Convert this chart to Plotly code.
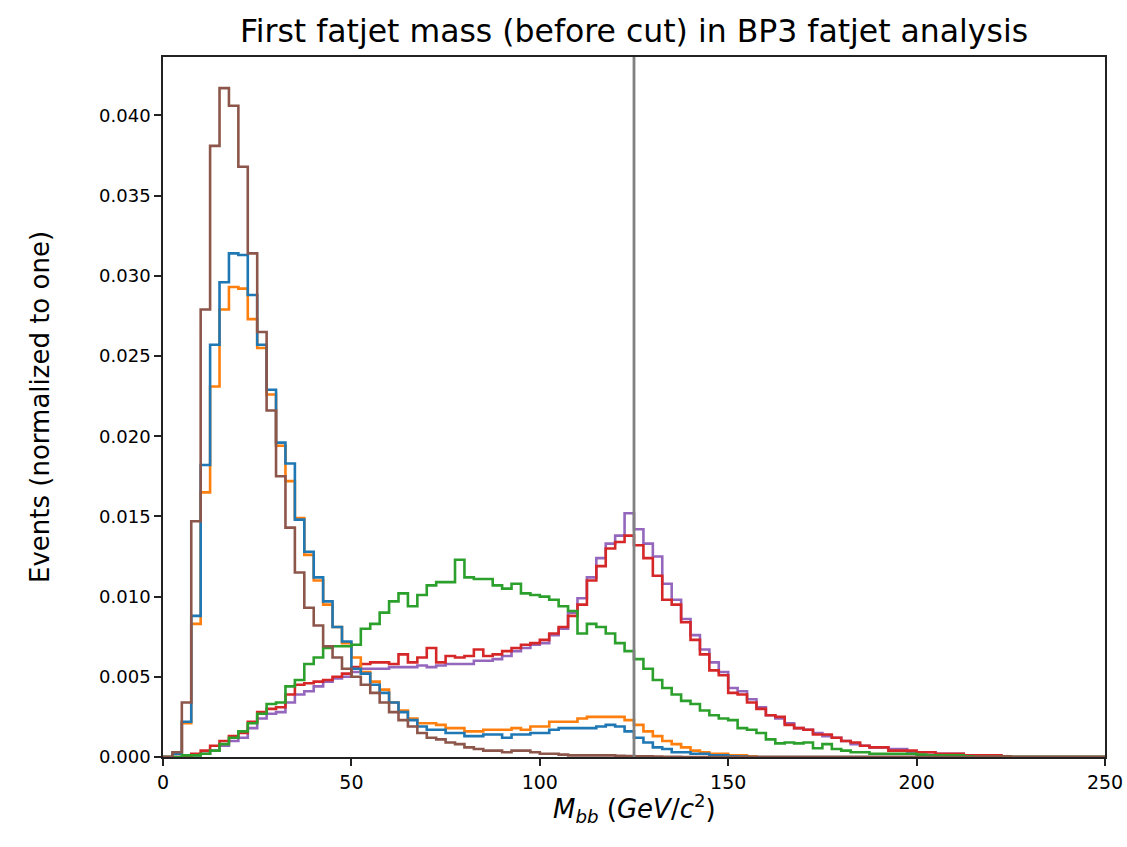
import plotly.graph_objects as go

# Histogram binning: 100 bins of 2.5 GeV between 0 and 250
BIN_WIDTH = 2.5
N_BINS = 100
edges = [i * BIN_WIDTH for i in range(N_BINS + 1)]

# Normalised bin contents per sample (bins beyond the listed ones are empty)
blue_vals = [
    0, 0.0002, 0.0022, 0.0088, 0.0182, 0.0257, 0.0296, 0.0314, 0.0313, 0.0288,
    0.0257, 0.0229, 0.0196, 0.0183, 0.0148, 0.0128, 0.0112, 0.0097, 0.0081, 0.0072,
    0.0055, 0.0052, 0.0045, 0.0040, 0.0034, 0.0028, 0.0023, 0.0019, 0.0017, 0.0017,
    0.0015, 0.0015, 0.0013, 0.0013, 0.0014, 0.0014, 0.0012, 0.0014, 0.0014, 0.0015,
    0.0015, 0.0017, 0.0018, 0.0018, 0.0018, 0.0018, 0.0019, 0.0020, 0.0019, 0.0016,
    0.0012, 0.0009, 0.0006, 0.0005, 0.0003, 0.0003, 0.0002, 0.0002, 0.0001, 0.0001,
    0.00005, 0.00003,
]
orange_vals = [
    0, 0.0002, 0.0021, 0.0083, 0.0165, 0.0231, 0.0279, 0.0293, 0.0292, 0.0273,
    0.0255, 0.0226, 0.0194, 0.0172, 0.0149, 0.0126, 0.0110, 0.0095, 0.0081, 0.0071,
    0.0062, 0.0053, 0.0047, 0.0042, 0.0034, 0.0029, 0.0024, 0.0021, 0.0021, 0.0020,
    0.0018, 0.0018, 0.0016, 0.0016, 0.0017, 0.0017, 0.0017, 0.0018, 0.0017, 0.0019,
    0.0019, 0.0022, 0.0022, 0.0022, 0.0024, 0.0025, 0.0025, 0.0025, 0.0025, 0.0023,
    0.0020, 0.0016, 0.0013, 0.0010, 0.0008, 0.0006, 0.0004, 0.0003, 0.0002, 0.0002,
    0.0001, 0.0001, 0.00005,
]
green_vals = [
    0, 0, 0.0001, 0.0001, 0.0002, 0.0004, 0.0008, 0.0012, 0.0016, 0.0021,
    0.0027, 0.0033, 0.0034, 0.0044, 0.0048, 0.0058, 0.0062, 0.0068, 0.0069, 0.0069,
    0.0070, 0.0080, 0.0083, 0.0090, 0.0097, 0.0102, 0.0094, 0.0101, 0.0107, 0.0109,
    0.0109, 0.0123, 0.0112, 0.0111, 0.0111, 0.0107, 0.0105, 0.0108, 0.0102, 0.0101,
    0.0100, 0.0098, 0.0094, 0.0091, 0.0077, 0.0083, 0.0081, 0.0077, 0.0071, 0.0066,
    0.0061, 0.0055, 0.0048, 0.0043, 0.0039, 0.0035, 0.0033, 0.0029, 0.0026, 0.0024,
    0.0023, 0.0018, 0.0017, 0.0015, 0.0011, 0.00085, 0.0009, 0.00085, 0.0009, 0.00055,
    0.0008, 0.0005, 0.0004, 0.0003, 0.0003, 0.0002, 0.0002, 0.0002, 0.0002, 0.0002,
    0.00015, 0.0001, 0.0001, 0.0001, 0.0001, 0.00005,
]
red_vals = [
    0, 0, 0, 0.0002, 0.0004, 0.0007, 0.0010, 0.0013, 0.0015, 0.0022,
    0.0028, 0.0030, 0.0031, 0.0039, 0.0045, 0.0046, 0.0047, 0.0048, 0.0050, 0.0052,
    0.0056, 0.0058, 0.0059, 0.0059, 0.0058, 0.0064, 0.0059, 0.0062, 0.0068, 0.0059,
    0.0063, 0.0062, 0.0063, 0.0067, 0.0063, 0.0064, 0.0066, 0.0068, 0.0070, 0.0071,
    0.0073, 0.0077, 0.0081, 0.0088, 0.0095, 0.0110, 0.0119, 0.0130, 0.0134, 0.0138,
    0.0132, 0.0124, 0.0113, 0.0098, 0.0095, 0.0084, 0.0073, 0.0064, 0.0054, 0.0051,
    0.0040, 0.0039, 0.0034, 0.0030, 0.0026, 0.0025, 0.0020, 0.0018, 0.0017, 0.0014,
    0.0014, 0.0012, 0.0010, 0.0009, 0.0007, 0.0006, 0.0006, 0.0004, 0.0004, 0.0004,
    0.0003, 0.0003, 0.0002, 0.0002, 0.0002, 0.0001, 0.0001, 0.0001, 0.0001, 0.00005,
]
purple_vals = [
    0, 0, 0, 0.0001, 0.0002, 0.0004, 0.0007, 0.0010, 0.0012, 0.0018,
    0.0024, 0.0027, 0.0028, 0.0034, 0.0039, 0.0041, 0.0044, 0.0047, 0.0049, 0.0050,
    0.0053, 0.0055, 0.0055, 0.0055, 0.0056, 0.0056, 0.0056, 0.0057, 0.0056, 0.0057,
    0.0058, 0.0058, 0.0058, 0.0060, 0.0060, 0.0061, 0.0063, 0.0066, 0.0068, 0.0070,
    0.0071, 0.0076, 0.0080, 0.0090, 0.0099, 0.0112, 0.0124, 0.0133, 0.0138, 0.0152,
    0.0142, 0.0133, 0.0125, 0.0108, 0.0098, 0.0086, 0.0076, 0.0067, 0.0059, 0.0053,
    0.0043, 0.0041, 0.0036, 0.0031, 0.0026, 0.0024, 0.0021, 0.0018, 0.0017, 0.0015,
    0.0013, 0.0012, 0.0010, 0.0008, 0.0007, 0.0006, 0.0006, 0.0005, 0.0005, 0.0003,
    0.0003, 0.0003, 0.0002, 0.0002, 0.0002, 0.0001, 0.0001, 0.0001, 0.0001,
]
brown_vals = [
    0, 0.0003, 0.0034, 0.0147, 0.0279, 0.0381, 0.0417, 0.0406, 0.0368, 0.0314,
    0.0265, 0.0216, 0.0175, 0.0143, 0.0115, 0.0093, 0.0082, 0.0069, 0.0062, 0.0055,
    0.0050, 0.0045, 0.0040, 0.0034, 0.0028, 0.0023, 0.0019, 0.0015, 0.0012, 0.0011,
    0.0009, 0.0008, 0.0006, 0.0005, 0.0004, 0.0004, 0.0003, 0.0004, 0.0004, 0.0003,
    0.0002, 0.0002, 0.00015, 0.0001, 0.0001, 0.0001, 0.0001, 0.0001, 0.00008, 0.00006,
    0.00005, 0.00004, 0.00003, 0.00002, 0.00002,
]

HIGGS_MASS = 125

x_ticks = [0, 50, 100, 150, 200, 250]
y_ticks = [0.000, 0.005, 0.010, 0.015, 0.020, 0.025, 0.030, 0.035, 0.040]
y_tick_text = ["0.000", "0.005", "0.010", "0.015", "0.020", "0.025", "0.030", "0.035", "0.040"]

# drawing order (last one ends up on top) and tab10 colours
series = [
    ("purple", purple_vals, "#9467bd"),
    ("red", red_vals, "#d62728"),
    ("orange", orange_vals, "#ff7f0e"),
    ("blue", blue_vals, "#1f77b4"),
    ("green", green_vals, "#2ca02c"),
    ("brown", brown_vals, "#8c564b"),
]

W, H = 1127, 847
M_L, M_R, M_T, M_B = 163, 22, 57, 90
plot_w = W - M_L - M_R
plot_h = H - M_T - M_B

fig = go.Figure()
for name, vals, color in series:
    full = list(vals) + [0.0] * (N_BINS - len(vals))
    # step outline: start at baseline, one horizontal run per bin, back to baseline
    xs = [edges[0]] + edges
    ys = [0.0] + full + [0.0]
    fig.add_trace(go.Scatter(
        x=xs, y=ys, mode="lines", name=name,
        line=dict(color=color, width=2.6, shape="hv"),
        showlegend=False, hoverinfo="skip",
    ))

fig.add_vline(x=HIGGS_MASS, line=dict(color="#808080", width=2.8))

font_family = "DejaVu Sans"
fig.update_layout(
    width=W, height=H,
    margin=dict(l=M_L, r=M_R, t=M_T, b=M_B),
    paper_bgcolor="white", plot_bgcolor="white",
    font=dict(family=font_family, color="black"),
    title=dict(
        text="First fatjet mass (before cut) in BP3 fatjet analysis",
        x=0.5, xref="paper", xanchor="center",
        y=1 - 31 / H, yanchor="middle",
        font=dict(size=31.5, family=font_family, color="black"),
    ),
    xaxis=dict(
        range=[0, 250], tickvals=x_ticks, ticktext=[str(v) for v in x_ticks],
        showgrid=False, zeroline=False, automargin=False,
        showline=True, linecolor="#222222", linewidth=1.6, mirror=True,
        ticks="outside", ticklen=7, tickwidth=1.5, tickcolor="#222222",
        tickfont=dict(size=19),
    ),
    yaxis=dict(
        range=[0, 0.04364], tickvals=y_ticks, ticktext=y_tick_text,
        showgrid=False, zeroline=False, automargin=False,
        showline=True, linecolor="#222222", linewidth=1.6, mirror=True,
        ticks="outside", ticklen=7, tickwidth=1.5, tickcolor="#222222",
        tickfont=dict(size=18),
    ),
    annotations=[
        dict(
            text="<i>M</i><sub><i>bb</i></sub> (<i>GeV</i>/<i>c</i><sup>2</sup>)",
            xref="paper", yref="paper",
            x=0.5, y=-(808 - (H - M_B)) / plot_h,
            xanchor="center", yanchor="middle", showarrow=False,
            font=dict(size=26, family=font_family),
        ),
        dict(
            text="Events (normalized to one)",
            xref="paper", yref="paper",
            x=-(M_L - 40) / plot_w, y=0.5, textangle=-90,
            xanchor="center", yanchor="middle", showarrow=False,
            font=dict(size=26, family=font_family),
        ),
    ],
)

fig.write_html("out.html")
